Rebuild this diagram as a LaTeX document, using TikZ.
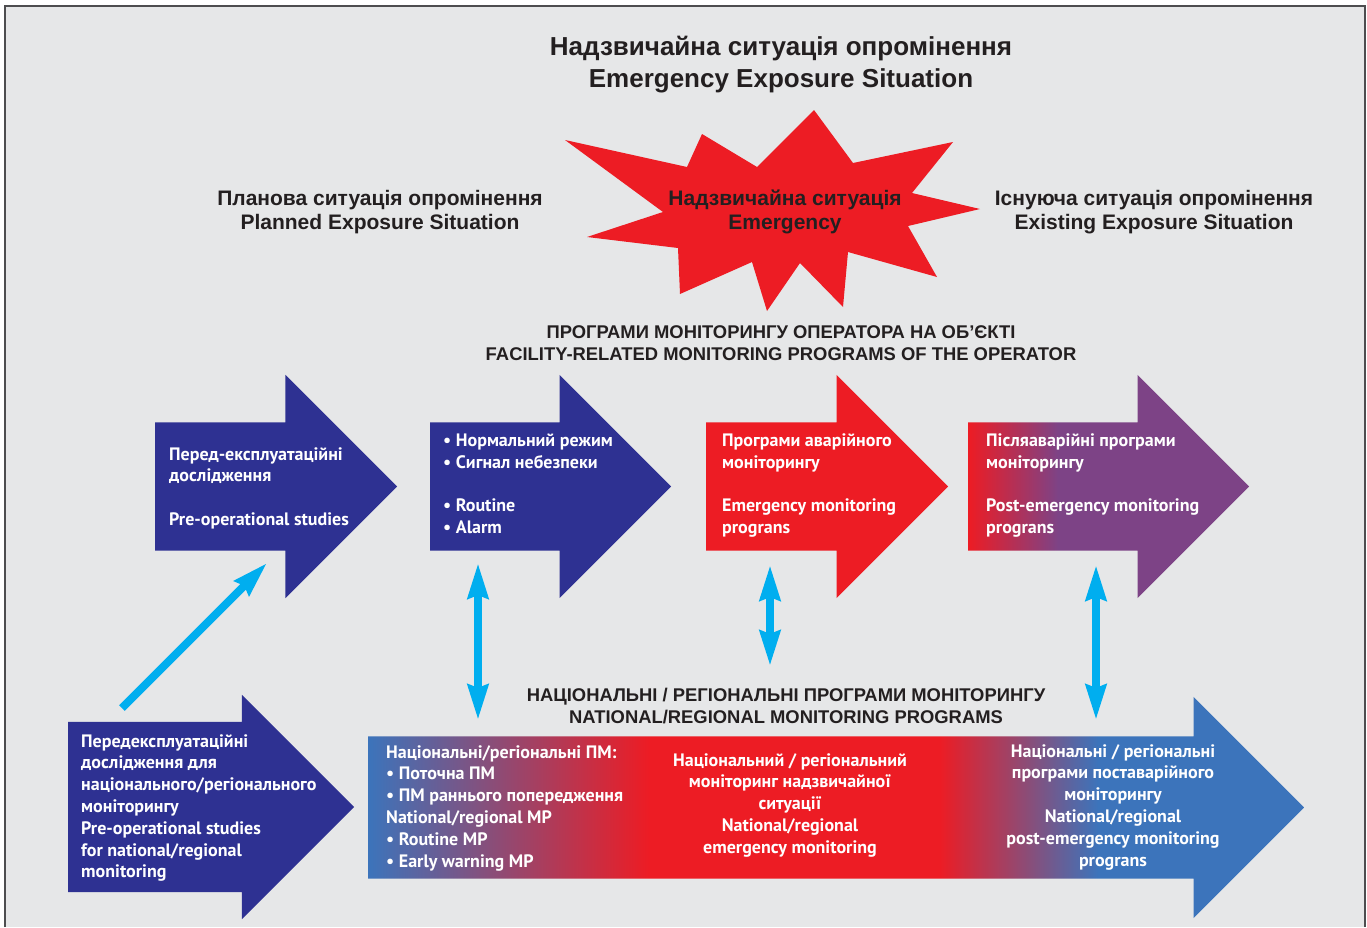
\documentclass[tikz,border=0pt]{standalone}
\usepackage{fontspec}
\setmainfont{Liberation Sans}
\newfontfamily\armfont{PT Sans}
\usetikzlibrary{shapes.arrows, arrows.meta}

\definecolor{bggray}{HTML}{E6E7E8}
\definecolor{framegray}{HTML}{4D4D4F}
\definecolor{navyblue}{HTML}{2E3192}
\definecolor{alertred}{HTML}{ED1C24}
\definecolor{plum}{HTML}{7D4386}
\definecolor{steelblue}{HTML}{3C74BB}
\definecolor{skyblue}{HTML}{00AEEF}
\definecolor{inkblack}{HTML}{231F20}

\pgfdeclarehorizontalshading{redplum}{100bp}{color(0bp)=(alertred); color(25bp)=(alertred); color(41bp)=(plum); color(100bp)=(plum)}
\pgfdeclarehorizontalshading{bluered}{100bp}{color(0bp)=(steelblue); color(25bp)=(steelblue); color(40bp)=(alertred); color(55.5bp)=(alertred); color(64bp)=(steelblue); color(100bp)=(steelblue)}

\tikzset{cyantip/.tip={Stealth[length=35pt, width=20pt, inset=3pt]}}

\begin{document}
\begin{tikzpicture}[x=1pt, y=-1pt,
  bigarrow/.style={single arrow, draw=none, inner sep=0pt, anchor=tail, single arrow tip angle=90, text height=64pt, text depth=64pt, single arrow head extend=47.5pt},
  armtext/.style={text=white, align=left, inner sep=0pt, anchor=north west, font=\armfont\bfseries\fontsize{18}{21.8}\selectfont},
  heading/.style={text=inkblack, align=center, inner sep=0pt, font=\bfseries\fontsize{21}{24}\selectfont},
  capsline/.style={heading, font=\bfseries\fontsize{18.4}{22}\selectfont},
  link/.style={draw=skyblue, line width=8pt}]

  \useasboundingbox (0,0) rectangle (1367,927);

  % Frame
  \fill[bggray] (5,6) rectangle (1365,927);
  \draw[framegray, line width=2pt] (5,927) -- (5,6) -- (1365,6) -- (1365,927);

  % Headings
  \node[heading, font=\bfseries\fontsize{26}{32}\selectfont] (title) at (781,65) {Надзвичайна ситуація опромінення\\Emergency Exposure Situation};
  \node[heading] (planned) at (380,212) {Планова ситуація опромінення\\Planned Exposure Situation};
  \node[heading] (existing) at (1154,212) {Існуюча ситуація опромінення\\Existing Exposure Situation};

  % Star
  \fill[alertred] (565,140) -- (687,167) -- (702,134) -- (757,167) -- (814,110) -- (853,163)
    -- (953,142) -- (912,193) -- (980,209) -- (908,226) -- (937,277) -- (848,252)
    -- (843,307) -- (800,263) -- (767,311) -- (752,262) -- (680,294) -- (678,248)
    -- (587,237) -- (663,212) -- cycle;
  \node[heading] (emergency) at (785,212) {Надзвичайна ситуація\\Emergency};

  \node[capsline] (operator) at (781,343) {ПРОГРАМИ МОНІТОРИНГУ ОПЕРАТОРА НА ОБ’ЄКТІ\\FACILITY-RELATED MONITORING PROGRAMS OF THE OPERATOR};
  \node[capsline] (national) at (786,706) {НАЦІОНАЛЬНІ / РЕГІОНАЛЬНІ ПРОГРАМИ МОНІТОРИНГУ\\NATIONAL/REGIONAL MONITORING PROGRAMS};

  % Upper row of arrows
  \node[bigarrow, fill=navyblue, minimum height=242pt] (preop) at (155,486.5) {};
  \node[bigarrow, fill=navyblue, minimum height=241pt] (routine) at (430,486.5) {};
  \node[bigarrow, fill=alertred, minimum height=242pt] (emprog) at (706,486.5) {};
  \node[bigarrow, shade, shading=redplum, minimum height=281pt] (postprog) at (968,486.5) {};

  % Lower row of arrows
  \node[bigarrow, fill=navyblue, minimum height=286pt, text height=85pt, text depth=85pt, single arrow head extend=27pt] (prenat) at (68,807) {};
  \node[bigarrow, shade, shading=bluered, minimum height=936pt, text height=71pt, text depth=71pt, single arrow head extend=39.5pt] (natprog) at (368,807.5) {};

  % Texts in arrows
  \node[armtext] (preopT) at (169,447) {Перед-експлуатаційні\\дослідження\\[21.8pt]Pre-operational studies};
  \node[armtext] (routineT) at (443,433.5) {• Нормальний режим\\• Сигнал небезпеки\\[21.8pt]• Routine\\• Alarm};
  \node[armtext] (emprogT) at (722,433.5) {Програми аварійного\\моніторингу\\[21.8pt]Emergency monitoring\\prograns};
  \node[armtext] (postprogT) at (986,433.5) {Післяаварійні програми\\моніторингу\\[21.8pt]Post-emergency monitoring\\prograns};
  \node[armtext] (prenatT) at (81,734) {Передексплуатаційні\\дослідження для\\національного/регіонального\\моніторингу\\Pre-operational studies\\for national/regional\\monitoring};
  \node[armtext] (natroutT) at (386,745) {Національні/регіональні ПМ:\\• Поточна ПМ\\• ПМ раннього попередження\\National/regional MP\\• Routine MP\\• Early warning MP};
  \node[armtext, align=center, anchor=north] (natemT) at (790,753) {Національний / регіональний\\моніторинг надзвичайної\\ситуації\\National/regional\\emergency monitoring};
  \node[armtext, align=center, anchor=north] (natpostT) at (1113,744) {Національні / регіональні\\програми поставарійного\\моніторингу\\National/regional\\post-emergency monitoring\\prograns};

  % Links
  \coordinate (diagA) at (122,708);
  \coordinate (diagB) at (267,563);
  \coordinate (routineB) at (478,563);
  \coordinate (natA) at (478,720);
  \coordinate (emprogB) at (770,565);
  \coordinate (natB) at (770,666);
  \coordinate (postprogB) at (1096,565);
  \coordinate (natC) at (1096,720);
  \draw[link, -cyantip] (diagA) -- (diagB);
  \draw[link, cyantip-cyantip] (natA) -- (routineB);
  \draw[link, cyantip-cyantip] (natB) -- (emprogB);
  \draw[link, cyantip-cyantip] (natC) -- (postprogB);

\end{tikzpicture}
\end{document}
